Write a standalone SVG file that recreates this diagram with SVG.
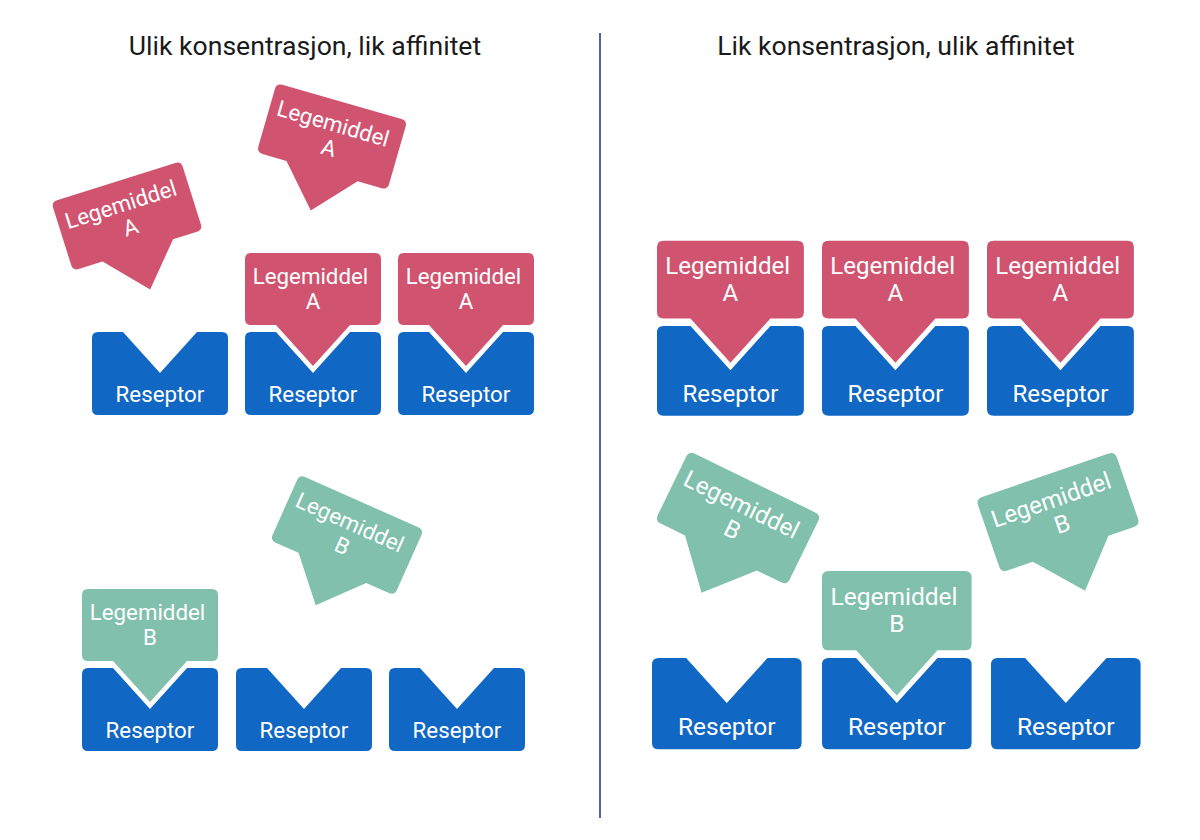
<svg xmlns="http://www.w3.org/2000/svg" xmlns:xlink="http://www.w3.org/1999/xlink" width="1200" height="840" viewBox="0 0 1200 840">
<style>
.title{font-family:Roboto,"Liberation Sans",sans-serif;font-size:26.6px;fill:#1a1a1a;text-anchor:middle}
.lbl{font-family:Roboto,"Liberation Sans",sans-serif;font-size:22.3px;fill:#ffffff;text-anchor:middle}
.rec{fill:#1167c4}
.da{fill:#d05470}
.db{fill:#80c0ac}
</style>
<defs>
<path id="recShape" d="M6,0 H31 L68,41 L105,0 H130 Q136,0 136,6 V77 Q136,83 130,83 H6 Q0,83 0,77 V6 Q0,0 6,0 Z"/>
<path id="drugShape" d="M6,0 H130 Q136,0 136,6 V66 Q136,72 130,72 H105 L68,113 L31,72 H6 Q0,72 0,66 V6 Q0,0 6,0 Z"/>
</defs>
<rect width="1200" height="840" fill="#ffffff"/>
<text class="title" x="305" y="55">Ulik konsentrasjon, lik affinitet</text>
<text class="title" x="896" y="55">Lik konsentrasjon, ulik affinitet</text>
<line x1="600" y1="33" x2="600" y2="818" stroke="#5163a5" stroke-width="2"/>
<g id="connectors"/>

<!-- Left panel, row 1 receptors -->
<g id="recL1" transform="translate(92,332)"><use xlink:href="#recShape" class="rec"/><text class="lbl" x="68" y="70">Reseptor</text></g>
<g id="recL2" transform="translate(245,332)"><use xlink:href="#recShape" class="rec"/><text class="lbl" x="68" y="70">Reseptor</text></g>
<g id="recL3" transform="translate(398,332)"><use xlink:href="#recShape" class="rec"/><text class="lbl" x="68" y="70">Reseptor</text></g>
<!-- Left panel, drug A -->
<g id="drugAL1" transform="translate(127,216) rotate(-17.5) translate(-68,-36)"><use xlink:href="#drugShape" class="da"/><text class="lbl" x="65.5" y="31">Legemiddel</text><text class="lbl" x="68" y="55.5">A</text></g>
<g id="drugAL2" transform="translate(332,136.5) rotate(16) translate(-68,-36)"><use xlink:href="#drugShape" class="da"/><text class="lbl" x="65.5" y="31">Legemiddel</text><text class="lbl" x="68" y="55.5">A</text></g>
<g id="drugAL3" transform="translate(245,253)"><use xlink:href="#drugShape" class="da"/><text class="lbl" x="65.5" y="31">Legemiddel</text><text class="lbl" x="68" y="55.5">A</text></g>
<g id="drugAL4" transform="translate(398,253)"><use xlink:href="#drugShape" class="da"/><text class="lbl" x="65.5" y="31">Legemiddel</text><text class="lbl" x="68" y="55.5">A</text></g>

<!-- Left panel, row 2 receptors -->
<g id="recL4" transform="translate(82,668)"><use xlink:href="#recShape" class="rec"/><text class="lbl" x="68" y="70">Reseptor</text></g>
<g id="recL5" transform="translate(236,668)"><use xlink:href="#recShape" class="rec"/><text class="lbl" x="68" y="70">Reseptor</text></g>
<g id="recL6" transform="translate(389,668)"><use xlink:href="#recShape" class="rec"/><text class="lbl" x="68" y="70">Reseptor</text></g>
<!-- Left panel, drug B -->
<g id="drugBL1" transform="translate(82,589)"><use xlink:href="#drugShape" class="db"/><text class="lbl" x="65.5" y="31">Legemiddel</text><text class="lbl" x="68" y="55.5">B</text></g>
<g id="drugBL2" transform="translate(347,535) rotate(24) translate(-68,-36)"><use xlink:href="#drugShape" class="db"/><text class="lbl" x="65.5" y="31">Legemiddel</text><text class="lbl" x="68" y="55.5">B</text></g>

<!-- Right panel, row 1 -->
<g id="recR1" transform="translate(657,326) scale(1.08)"><use xlink:href="#recShape" class="rec"/><text class="lbl" x="68" y="70">Reseptor</text></g>
<g id="recR2" transform="translate(822,326) scale(1.08)"><use xlink:href="#recShape" class="rec"/><text class="lbl" x="68" y="70">Reseptor</text></g>
<g id="recR3" transform="translate(987,326) scale(1.08)"><use xlink:href="#recShape" class="rec"/><text class="lbl" x="68" y="70">Reseptor</text></g>
<g id="drugAR1" transform="translate(657,240.7) scale(1.08)"><use xlink:href="#drugShape" class="da"/><text class="lbl" x="65.5" y="31">Legemiddel</text><text class="lbl" x="68" y="55.5">A</text></g>
<g id="drugAR2" transform="translate(822,240.7) scale(1.08)"><use xlink:href="#drugShape" class="da"/><text class="lbl" x="65.5" y="31">Legemiddel</text><text class="lbl" x="68" y="55.5">A</text></g>
<g id="drugAR3" transform="translate(987,240.7) scale(1.08)"><use xlink:href="#drugShape" class="da"/><text class="lbl" x="65.5" y="31">Legemiddel</text><text class="lbl" x="68" y="55.5">A</text></g>

<!-- Right panel, row 2 -->
<g id="recR4" transform="translate(652,658) scale(1.1)"><use xlink:href="#recShape" class="rec"/><text class="lbl" x="68" y="70">Reseptor</text></g>
<g id="recR5" transform="translate(822,658) scale(1.1)"><use xlink:href="#recShape" class="rec"/><text class="lbl" x="68" y="70">Reseptor</text></g>
<g id="recR6" transform="translate(991,658) scale(1.1)"><use xlink:href="#recShape" class="rec"/><text class="lbl" x="68" y="70">Reseptor</text></g>
<g id="drugBR1" transform="translate(738,518) rotate(26) scale(1.08) translate(-68,-36)"><use xlink:href="#drugShape" class="db"/><text class="lbl" x="65.5" y="31">Legemiddel</text><text class="lbl" x="68" y="55.5">B</text></g>
<g id="drugBR2" transform="translate(822,571.1) scale(1.1)"><use xlink:href="#drugShape" class="db"/><text class="lbl" x="65.5" y="31">Legemiddel</text><text class="lbl" x="68" y="55.5">B</text></g>
<g id="drugBR3" transform="translate(1058,512) rotate(-19) scale(1.08) translate(-68,-36)"><use xlink:href="#drugShape" class="db"/><text class="lbl" x="65.5" y="31">Legemiddel</text><text class="lbl" x="68" y="55.5">B</text></g>
</svg>
